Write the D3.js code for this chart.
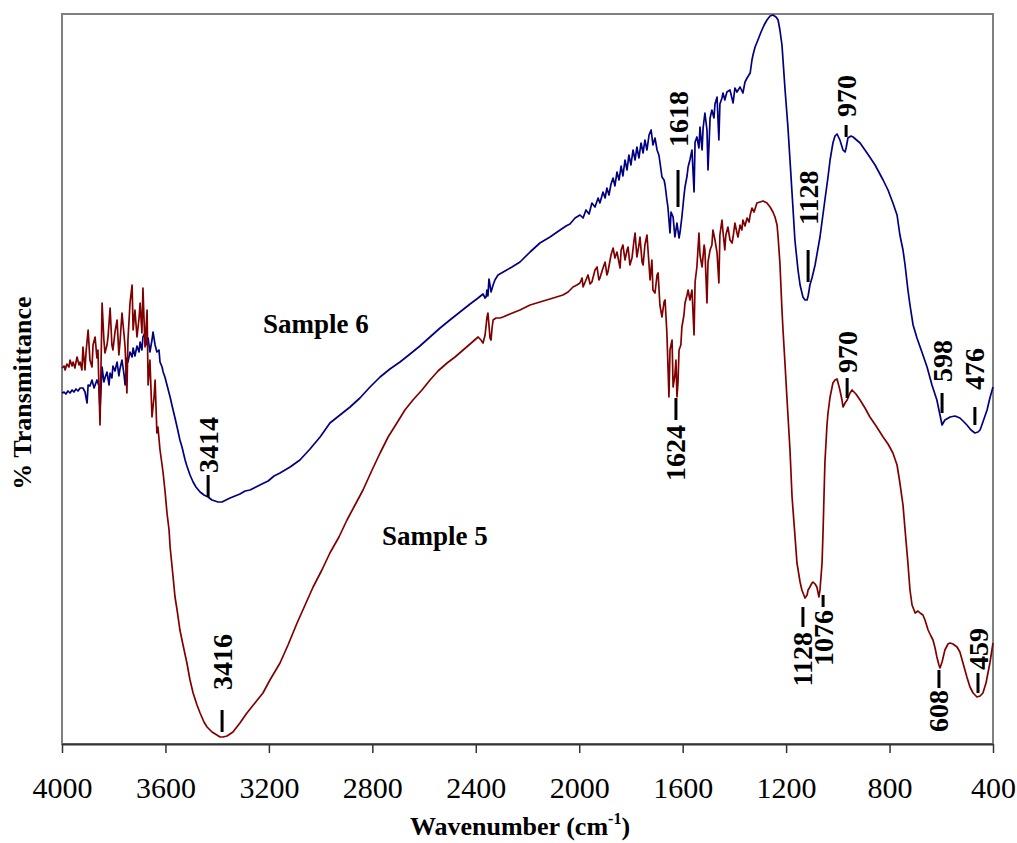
<!DOCTYPE html>
<html>
<head>
<meta charset="utf-8">
<script src="https://cdn.jsdelivr.net/npm/d3@7"></script>
<style>
  body { margin: 0; background: #fff; }
  text { font-family: "Liberation Serif", "Times New Roman", serif; }
</style>
</head>
<body>
<div id="ftir"></div>
<script>
// wavenumber ticks
var xTicks = [4000, 3600, 3200, 2800, 2400, 2000, 1600, 1200, 800, 400];

// Sample 6 : [wavenumber, transmittance (a.u.)]
var sample6 = [
  [4000,35.1],[3992,35.2],[3985,35.0],[3977,35.3],[3969,35.1],[3961,35.4],[3954,35.2],[3946,35.5],[3938,35.3],[3930,35.6],
  [3919,35.6],[3911,35.2],[3903,34.1],[3899,35.9],[3892,35.8],[3884,36.4],[3876,35.6],[3865,36.4],[3857,35.8],[3853,33.4],
  [3845,37.7],[3838,36.2],[3834,36.6],[3826,37.2],[3818,35.9],[3814,37.1],[3807,36.6],[3803,37.8],[3795,37.3],[3787,38.2],
  [3780,36.8],[3776,37.5],[3768,38.4],[3760,36.9],[3756,35.9],[3749,38.6],[3745,38.2],[3737,39.2],[3729,38.7],[3725,39.6],
  [3718,38.8],[3710,39.8],[3702,39.2],[3698,40.2],[3691,39.4],[3687,40.7],[3679,41.1],[3671,39.9],[3667,40.6],[3660,39.2],
  [3652,40.4],[3648,41.2],[3640,39.9],[3633,39.2],[3625,39.4],[3621,38.2],[3613,37.7],[3609,37.2],[3602,36.7],[3594,35.9],
  [3582,34.7],[3575,33.9],[3563,32.6],[3555,31.7],[3544,30.4],[3536,29.7],[3524,28.4],[3517,27.8],[3505,26.9],[3493,26.2],
  [3482,25.7],[3466,25.2],[3451,24.9],[3435,24.7],[3420,24.4],[3408,24.3],[3397,24.2],[3381,24.2],[3366,24.4],[3350,24.6],
  [3331,24.8],[3312,25.0],[3292,25.3],[3273,25.4],[3250,25.7],[3227,26.0],[3203,26.3],[3180,26.8],[3157,27.1],[3118,27.7],
  [3080,28.4],[3041,29.5],[3002,30.7],[2964,32.1],[2925,32.9],[2886,33.7],[2848,34.6],[2809,35.7],[2770,36.7],[2732,37.5],
  [2693,38.2],[2654,39.0],[2616,39.8],[2577,40.7],[2538,41.6],[2500,42.4],[2461,43.2],[2422,44.0],[2391,44.6],[2372,45.0],
  [2364,44.6],[2360,44.7],[2357,45.4],[2353,44.8],[2349,46.5],[2345,45.9],[2341,45.2],[2333,45.9],[2326,46.4],[2314,46.9],
  [2287,47.3],[2260,47.7],[2229,48.2],[2190,49.2],[2152,50.1],[2113,50.7],[2074,51.4],[2051,51.8],[2036,52.0],[2016,52.6],
  [1997,52.9],[1985,52.6],[1974,53.4],[1962,53.0],[1951,54.1],[1939,53.7],[1927,54.6],[1920,54.1],[1908,55.2],[1900,54.6],
  [1893,55.6],[1885,54.9],[1877,56.0],[1869,56.6],[1862,55.8],[1854,57.2],[1846,56.4],[1838,57.8],[1831,56.8],[1823,58.4],
  [1815,57.4],[1808,58.9],[1800,57.9],[1792,59.4],[1784,58.4],[1777,59.7],[1769,58.6],[1761,60.1],[1753,59.1],[1746,60.4],
  [1738,59.4],[1730,60.9],[1722,61.4],[1715,59.9],[1707,60.6],[1699,59.4],[1692,58.9],[1688,58.2],[1680,56.7],[1672,56.4],
  [1668,55.9],[1661,54.4],[1657,53.7],[1649,51.1],[1645,53.2],[1637,52.7],[1630,50.7],[1622,52.1],[1614,50.6],[1610,51.2],
  [1603,52.7],[1595,54.8],[1591,55.7],[1583,56.8],[1579,57.7],[1572,58.4],[1564,59.4],[1556,55.2],[1552,60.2],[1545,60.7],
  [1537,59.6],[1533,61.7],[1525,59.4],[1521,61.6],[1514,63.1],[1506,61.4],[1502,57.4],[1494,62.6],[1487,63.4],[1479,62.6],
  [1475,64.0],[1467,64.7],[1460,60.4],[1456,64.0],[1448,64.6],[1444,65.1],[1437,64.4],[1429,65.2],[1417,65.4],[1405,64.1],
  [1398,65.6],[1390,65.2],[1378,65.7],[1367,65.1],[1359,66.2],[1351,66.6],[1339,67.1],[1332,68.4],[1328,68.9],[1320,69.7],
  [1309,70.4],[1297,71.2],[1285,71.9],[1274,72.4],[1262,72.8],[1251,72.9],[1239,72.7],[1231,72.4],[1224,71.4],[1216,69.9],
  [1212,68.4],[1204,65.4],[1193,61.7],[1185,58.4],[1173,53.4],[1166,50.4],[1154,47.4],[1146,45.9],[1135,44.7],[1127,44.4],
  [1119,44.4],[1115,44.8],[1111,45.4],[1108,45.9],[1100,46.6],[1088,47.9],[1069,50.7],[1050,54.4],[1038,56.7],[1030,58.4],
  [1019,60.1],[1011,60.8],[1003,61.0],[992,60.4],[980,59.4],[972,59.2],[968,59.6],[961,60.6],[949,60.8],[941,60.7],
  [914,60.1],[887,59.1],[856,57.9],[825,56.4],[806,55.4],[787,54.1],[771,52.9],[760,50.9],[748,49.4],[740,47.9],
  [729,45.4],[721,43.9],[709,41.9],[694,40.6],[675,39.2],[655,37.7],[636,35.9],[617,34.4],[605,32.9],[597,31.9],
  [586,32.4],[566,32.7],[547,32.8],[528,32.6],[512,32.2],[501,31.9],[485,31.4],[470,31.1],[458,31.2],[450,31.4],
  [439,32.2],[423,33.4],[412,34.6],[400,35.7]
];

// Sample 5 : [wavenumber, transmittance (a.u.)]
var sample5 = [
  [4000,37.6],[3992,37.8],[3988,37.4],[3981,38.0],[3973,37.7],[3969,38.4],[3961,37.8],[3957,38.2],[3950,37.6],[3942,38.7],
  [3934,37.9],[3930,38.2],[3923,37.4],[3919,39.7],[3911,37.4],[3907,39.2],[3899,41.4],[3892,38.4],[3884,37.7],[3880,39.9],
  [3872,40.7],[3865,38.6],[3861,39.4],[3853,31.9],[3845,44.1],[3838,40.4],[3834,39.1],[3826,39.9],[3822,40.7],[3814,43.6],
  [3807,39.9],[3803,39.4],[3795,41.2],[3787,42.4],[3780,38.9],[3776,40.1],[3768,43.1],[3760,40.9],[3756,39.7],[3749,35.1],
  [3745,40.4],[3737,44.1],[3729,45.9],[3725,41.4],[3718,43.4],[3710,40.7],[3702,42.6],[3698,44.1],[3691,41.1],[3687,45.6],
  [3679,39.7],[3671,43.4],[3667,35.9],[3660,38.4],[3652,32.7],[3644,34.7],[3640,36.4],[3633,31.1],[3629,31.7],[3621,29.4],
  [3613,27.9],[3609,27.1],[3602,25.4],[3594,23.1],[3586,21.4],[3582,19.7],[3575,17.9],[3563,14.7],[3555,13.4],[3544,11.4],
  [3532,9.9],[3517,8.1],[3505,6.4],[3493,5.1],[3478,3.9],[3466,3.1],[3451,2.2],[3439,1.7],[3420,1.2],[3401,0.9],
  [3389,0.7],[3377,0.7],[3362,0.8],[3339,1.2],[3312,2.1],[3285,3.1],[3254,4.1],[3223,5.1],[3196,6.4],[3157,8.1],
  [3126,9.9],[3091,12.1],[3060,13.9],[3029,15.7],[2995,17.4],[2964,19.1],[2929,20.7],[2898,22.4],[2867,23.9],[2836,25.4],
  [2801,27.4],[2770,29.1],[2739,30.7],[2705,32.1],[2674,33.4],[2643,34.4],[2608,35.4],[2577,36.4],[2546,37.3],[2511,38.1],
  [2480,38.7],[2449,39.4],[2422,40.0],[2391,40.7],[2380,40.4],[2372,40.1],[2364,40.9],[2357,42.6],[2353,43.1],[2349,41.9],
  [2345,40.6],[2341,40.4],[2337,41.6],[2333,42.4],[2322,42.6],[2306,42.6],[2295,42.7],[2268,43.0],[2229,43.4],[2190,43.9],
  [2152,44.2],[2113,44.5],[2063,44.9],[2043,45.2],[2024,45.7],[2009,45.9],[1997,46.1],[1989,46.6],[1985,45.7],[1974,46.4],
  [1966,46.9],[1958,46.0],[1951,46.2],[1939,47.4],[1931,47.7],[1924,46.4],[1920,46.6],[1908,47.6],[1900,48.2],[1893,46.9],
  [1889,47.2],[1877,48.9],[1869,49.6],[1862,48.6],[1854,49.2],[1842,47.6],[1838,49.4],[1831,49.9],[1823,48.4],[1815,49.4],
  [1811,49.7],[1804,47.9],[1796,48.6],[1788,50.4],[1784,51.1],[1777,48.7],[1769,49.9],[1765,50.7],[1757,48.2],[1753,47.9],
  [1746,49.9],[1738,50.9],[1734,49.4],[1726,46.4],[1719,48.4],[1715,45.4],[1707,45.1],[1699,46.9],[1695,47.1],[1688,43.9],
  [1680,42.7],[1672,44.2],[1668,44.4],[1661,41.1],[1653,34.7],[1649,39.4],[1641,40.4],[1637,35.7],[1630,36.9],[1626,38.4],
  [1622,34.7],[1618,36.2],[1614,39.4],[1607,39.9],[1603,41.7],[1595,42.9],[1591,44.1],[1583,44.9],[1579,45.4],[1572,44.4],
  [1564,45.4],[1556,40.9],[1552,46.2],[1545,47.7],[1537,51.1],[1533,48.9],[1525,47.7],[1517,49.9],[1514,49.4],[1506,44.1],
  [1502,48.2],[1494,49.4],[1487,49.9],[1483,51.4],[1475,50.4],[1467,49.1],[1460,46.1],[1456,50.9],[1448,52.4],[1444,51.2],
  [1437,49.4],[1433,50.9],[1425,51.7],[1417,50.4],[1409,50.1],[1405,50.7],[1398,52.1],[1390,51.1],[1386,50.7],[1378,51.9],
  [1371,51.4],[1367,52.4],[1359,51.8],[1351,52.6],[1343,52.2],[1339,52.9],[1332,53.6],[1324,53.2],[1313,54.1],[1301,54.2],
  [1289,54.3],[1274,54.1],[1262,53.7],[1251,53.2],[1243,52.7],[1235,51.9],[1231,50.7],[1224,48.1],[1216,43.4],[1212,41.4],
  [1204,37.9],[1197,34.7],[1185,29.4],[1177,24.7],[1166,20.9],[1158,18.1],[1146,16.2],[1139,15.4],[1127,14.6],[1119,14.9],
  [1115,15.4],[1108,15.7],[1100,16.1],[1096,16.2],[1088,16.0],[1081,15.7],[1077,15.2],[1073,14.7],[1069,15.4],[1061,18.1],
  [1057,21.4],[1050,28.1],[1042,31.9],[1038,33.1],[1030,34.7],[1019,36.1],[1011,36.4],[1003,36.5],[992,35.4],[984,34.4],
  [980,33.7],[972,34.1],[964,34.4],[953,35.1],[945,35.4],[930,35.0],[914,34.4],[895,33.6],[876,32.7],[852,31.8],
  [825,30.7],[806,30.0],[787,29.1],[771,27.9],[760,26.1],[748,23.9],[740,21.4],[729,18.1],[721,15.4],[713,13.9],
  [701,13.1],[690,13.3],[682,13.1],[671,12.9],[663,12.4],[651,11.4],[640,10.8],[632,10.4],[624,9.6],[617,8.7],
  [609,7.9],[605,7.6],[597,8.2],[586,9.4],[574,10.0],[566,10.1],[555,10.0],[539,9.7],[528,9.2],[516,8.1],
  [501,6.7],[489,5.7],[477,5.1],[462,4.7],[450,4.8],[439,5.1],[427,6.1],[412,8.1],[400,10.1]
];

// peak labels: text, wavenumber, tick from/to (T), text edge (T), direction
var peakLabels = [
  ["3414", 3435, 26.9, 24.7, 27.1, "up"],
  ["3416", 3381, 3.4, 1.2, 5.4, "up"],
  ["1618", 1618, 57.4, 53.7, 59.7, "up"],
  ["1624", 1626, 34.6, 32.4, 31.9, "down"],
  ["1128", 1115, 49.4, 46.2, 51.9, "up"],
  ["970", 968, 61.9, 60.7, 62.7, "up"],
  ["598", 597, 35.1, 33.1, 36.2, "up"],
  ["476", 470, 33.7, 31.9, 35.4, "up"],
  ["970", 964, 36.6, 34.6, 37.1, "up"],
  ["1128", 1135, 13.7, 11.7, 11.2, "down"],
  ["1076", 1057, 14.9, 13.7, 13.4, "down"],
  ["608", 609, 7.4, 5.6, 5.4, "down"],
  ["459", 458, 7.1, 5.1, 7.4, "up"]
];

// series names, where they are written, and colours
var seriesNames = ["Sample 6", "Sample 5"];
var seriesLabelPos = [[3223, 41.1], [2763, 19.9]];
var seriesColors = ["#000080", "#800000"];

var W = 1017, H = 843;
var margin = {top: 14, right: 24, bottom: 99, left: 62},
    width = W - margin.left - margin.right,
    height = H - margin.top - margin.bottom;

var svg = d3.select("#ftir")
  .append("svg")
    .attr("width", W)
    .attr("height", H)
  .append("g")
    .attr("transform", "translate(" + margin.left + "," + margin.top + ")");

var x = d3.scaleLinear().domain([4000, 400]).range([0, width]);
var y = d3.scaleLinear().domain([0, 73]).range([height, 0]);

// frame
svg.append("rect")
  .attr("x", 0).attr("y", 0)
  .attr("width", width).attr("height", height)
  .attr("fill", "none")
  .attr("stroke", "#808080")
  .attr("stroke-width", 2);

// curves
var line = d3.line()
  .x(function(d) { return x(d[0]); })
  .y(function(d) { return y(d[1]); });

[sample6, sample5].forEach(function(s, i) {
  svg.append("path")
    .datum(s)
    .attr("fill", "none")
    .attr("stroke", seriesColors[i])
    .attr("stroke-width", 1.7)
    .attr("stroke-linejoin", "round")
    .attr("d", line);
});

// X axis
var xAxis = svg.append("g")
  .attr("transform", "translate(0," + height + ")")
  .call(d3.axisBottom(x).tickValues(xTicks).tickFormat(d3.format("d"))
    .tickSize(9).tickSizeOuter(0).tickPadding(24));
xAxis.select(".domain").attr("stroke", "#333").attr("stroke-width", 2);
xAxis.selectAll(".tick line").attr("stroke", "#333").attr("stroke-width", 1.5);
xAxis.selectAll("text")
  .attr("font-size", 30)
  .attr("fill", "#000")
  .style("font-family", "'Liberation Serif', 'Times New Roman', serif");

// axis titles
var xt = svg.append("text")
  .attr("x", 458).attr("y", height + 91)
  .attr("text-anchor", "middle")
  .attr("font-size", 26)
  .attr("font-weight", "bold");
xt.append("tspan").text("Wavenumber (cm");
xt.append("tspan").text("-1").attr("font-size", 16).attr("dy", -11);
xt.append("tspan").text(")").attr("dy", 11);

svg.append("text")
  .attr("transform", "translate(" + (-31) + "," + (height / 2 + 14) + ") rotate(-90)")
  .attr("text-anchor", "middle")
  .attr("font-size", 26)
  .attr("font-weight", "bold")
  .text("% Transmittance");

// peak labels
peakLabels.forEach(function(p) {
  var px = x(p[1]);
  svg.append("line")
    .attr("x1", px).attr("x2", px)
    .attr("y1", y(p[2])).attr("y2", y(p[3]))
    .attr("stroke", "#000")
    .attr("stroke-width", 3);
  svg.append("text")
    .attr("transform", "translate(" + px + "," + y(p[4]) + ") rotate(-90)")
    .attr("text-anchor", p[5] === "up" ? "start" : "end")
    .attr("dominant-baseline", "central")
    .attr("font-size", 28)
    .attr("font-weight", "bold")
    .text(p[0]);
});

// series names
seriesNames.forEach(function(n, i) {
  svg.append("text")
    .attr("x", x(seriesLabelPos[i][0]))
    .attr("y", y(seriesLabelPos[i][1]))
    .attr("font-size", 27)
    .attr("font-weight", "bold")
    .text(n);
});
</script>
</body>
</html>
